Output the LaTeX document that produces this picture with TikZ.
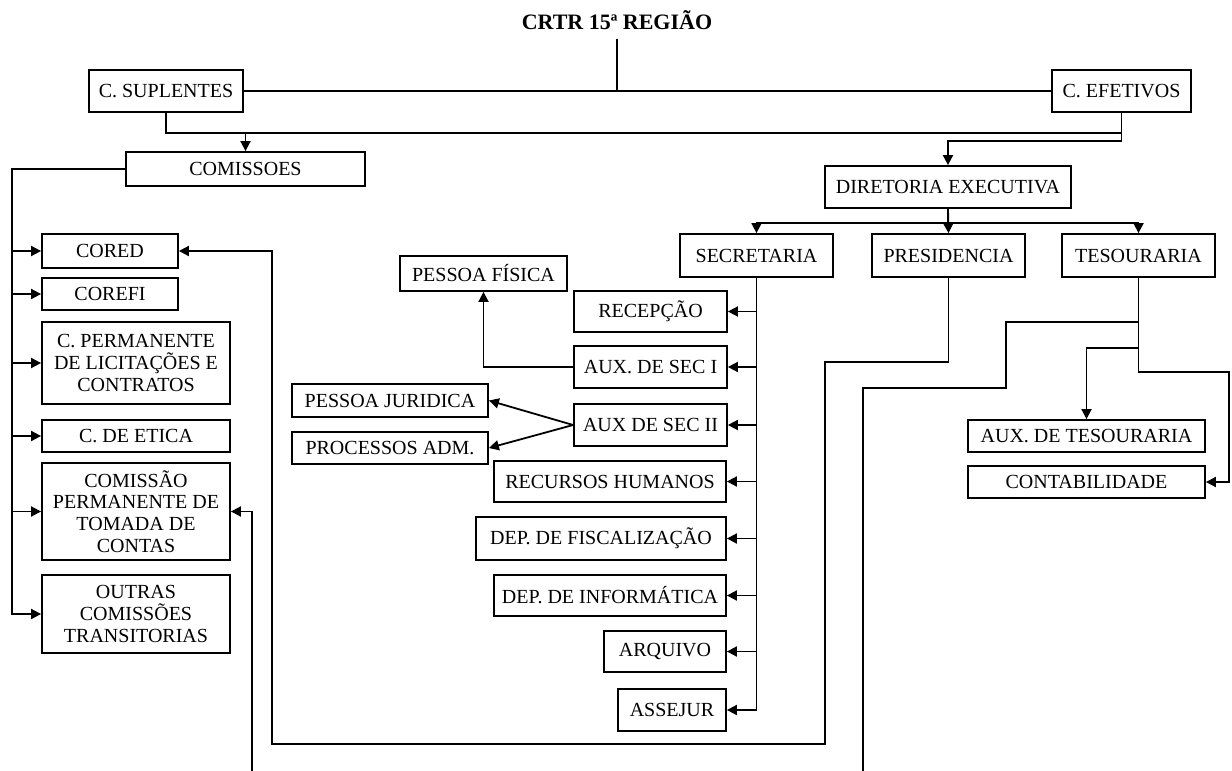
\documentclass[tikz,border=0pt]{standalone}
\usepackage{fontspec}
\setmainfont{Liberation Serif}
\usetikzlibrary{arrows.meta}

\begin{document}
\begin{tikzpicture}[
			x=0.5pt, y=-0.5pt,
			every node/.style={font=\fontsize{10}{10.8}\selectfont},
			box/.style={rectangle, draw, line width=.9pt, align=center, inner sep=0pt},
			line/.style={line width=.9pt},
			arrow/.style={-{Triangle[length=5pt,width=5pt]}, line width=.9pt}
			]
			\useasboundingbox (0,0) rectangle (1232,771);

			\node[font=\fontsize{11}{13}\bfseries\selectfont, anchor=base, inner sep=4.5pt] (title) at (617,29) {CRTR 15ª REGIÃO};

			\node[box, minimum width=77pt, minimum height=21pt] (sup) at (166,91) {C. SUPLENTES};
			\node[box, minimum width=69.5pt, minimum height=21pt] (efe) at (1121.5,91) {C. EFETIVOS};
			\node[box, minimum width=119.5pt, minimum height=17pt] (com) at (245.5,169) {COMISSOES};
			\node[box, minimum width=123pt, minimum height=21pt] (dir) at (948,187) {DIRETORIA EXECUTIVA};
			\node[box, minimum width=76.5pt, minimum height=21.5pt] (sec) at (756.5,255.5) {SECRETARIA};
			\node[box, minimum width=76.5pt, minimum height=21.5pt] (pres) at (948.5,255.5) {PRESIDENCIA};
			\node[box, minimum width=76.5pt, minimum height=21.5pt] (tes) at (1138.5,255.5) {TESOURARIA};

			% comissoes
			\node[box, minimum width=68pt, minimum height=17pt] (cored) at (110,251) {CORED};
			\node[box, minimum width=68pt, minimum height=16pt] (corefi) at (110,294) {COREFI};
			\node[box, minimum width=94pt, minimum height=41pt] (licit) at (136,363) {C. PERMANENTE\\DE LICITAÇÕES E\\CONTRATOS};
			\node[box, minimum width=94pt, minimum height=16pt] (etica) at (136,436) {C. DE ETICA};
			\node[box, minimum width=94pt, minimum height=48.5pt] (tomada) at (136,511.5) {COMISSÃO\\PERMANENTE DE\\TOMADA DE\\CONTAS};
			\node[box, minimum width=94pt, minimum height=39pt] (outras) at (136,614) {OUTRAS\\COMISSÕES\\TRANSITORIAS};

			% secretaria
			\node[box, minimum width=76.5pt, minimum height=20.5pt] (recep) at (650.5,311.5) {RECEPÇÃO};
			\node[box, minimum width=76.5pt, minimum height=21pt] (auxi) at (650.5,367) {AUX. DE SEC I};
			\node[box, minimum width=76.5pt, minimum height=21pt] (auxii) at (650.5,425) {AUX DE SEC II};
			\node[box, minimum width=83.5pt, minimum height=17.5pt] (pf) at (483.5,273.5) {PESSOA FÍSICA};
			\node[box, minimum width=98pt, minimum height=16.5pt] (pj) at (390,400.5) {PESSOA JURIDICA};
			\node[box, minimum width=98pt, minimum height=16pt] (proc) at (390,448) {PROCESSOS ADM.};
			\node[box, minimum width=116pt, minimum height=20.5pt] (rh) at (610,481.5) {RECURSOS HUMANOS};
			\node[box, minimum width=125pt, minimum height=21.5pt] (fisc) at (601,538.5) {DEP. DE FISCALIZAÇÃO};
			\node[box, minimum width=116pt, minimum height=20.5pt] (info) at (610,595.5) {DEP. DE INFORMÁTICA};
			\node[box, minimum width=61pt, minimum height=20.5pt] (arq) at (665,651.5) {ARQUIVO};
			\node[box, minimum width=54pt, minimum height=21pt] (assejur) at (672,710) {ASSEJUR};

			% tesouraria
			\node[box, minimum width=118.5pt, minimum height=16pt] (auxtes) at (1086.5,436) {AUX. DE TESOURARIA};
			\node[box, minimum width=118.5pt, minimum height=16pt] (cont) at (1086.5,482) {CONTABILIDADE};

			\coordinate (topbus) at (245.5,132);
			\coordinate (lbus) at (12,169);
			\coordinate (bot1) at (252,771);
			\coordinate (bot2) at (863,771);

			\draw[line] (title.south) -- (title.south |- sup.east);
			\draw[line] (sup.east) -- (efe.west);
			\draw[line] (sup.south) -- ++(0,20) -| (efe.south);
			\draw[arrow] (topbus) -- (com.north);
			\draw[arrow] (efe.south) -- ++(0,28) -| (dir.north);

			\draw[arrow] (com.west) -- (lbus) |- (outras.west);
			\draw[arrow] (lbus |- cored.west) -- (cored.west);
			\draw[arrow] (lbus |- corefi.west) -- (corefi.west);
			\draw[arrow] (lbus |- licit.west) -- (licit.west);
			\draw[arrow] (lbus |- etica.west) -- (etica.west);
			\draw[arrow] (lbus |- tomada.west) -- (tomada.west);

			\draw[arrow] (dir.south) -- ++(0,14) -| (sec.north);
			\draw[arrow] (dir.south) -- ++(0,14) -| (tes.north);
			\draw[arrow] (dir.south) -- (pres.north);

			\draw[arrow] (sec.south) |- (assejur.east);
			\draw[arrow] (sec.south |- recep.east) -- (recep.east);
			\draw[arrow] (sec.south |- auxi.east) -- (auxi.east);
			\draw[arrow] (sec.south |- auxii.east) -- (auxii.east);
			\draw[arrow] (sec.south |- rh.east) -- (rh.east);
			\draw[arrow] (sec.south |- fisc.east) -- (fisc.east);
			\draw[arrow] (sec.south |- info.east) -- (info.east);
			\draw[arrow] (sec.south |- arq.east) -- (arq.east);

			\draw[arrow] (auxi.west) -| (pf.south);
			\draw[arrow] (auxii.west) -- (pj.east);
			\draw[arrow] (auxii.west) -- (proc.east);

			\draw[arrow] (pres.south) -- (948.5,362) -| (825,744) -| (272,251) -- (cored.east);
			\draw[arrow] (bot1) |- (tomada.east);

			\draw[arrow] (tes.south) |- (1229,372) |- (cont.east);
			\draw[arrow] (tes.south |- 0,348) -| (auxtes.north);
			\draw[line] (tes.south |- 0,322) -| (1006,388) -| (bot2);

		\end{tikzpicture}
\end{document}
